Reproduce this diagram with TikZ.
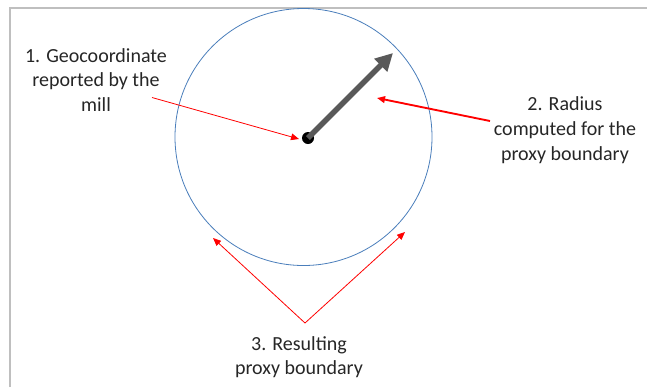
\documentclass[tikz,border=0pt]{standalone}
\usepackage{fontspec}
\setmainfont{Carlito}
\usetikzlibrary{arrows.meta}
\definecolor{framegray}{HTML}{BFBFBF}
\definecolor{circblue}{HTML}{4A7EBB}
\definecolor{arrgray}{HTML}{595959}
\tikzset{
  lbl/.style={align=center, font=\fontsize{15}{18.5}\selectfont, text=black!85, inner sep=0pt},
  redarr/.style={draw=red, line width=0.6pt, -{Triangle[length=6pt,width=5pt]}},
  redarrthick/.style={draw=red, line width=1.4pt, -{Triangle[length=6pt,width=5pt]}},
}
\begin{document}
\begin{tikzpicture}[x=0.75pt,y=-0.75pt]
\useasboundingbox (0,0) rectangle (647,387);
% frame
\draw[framegray, line width=1.5pt] (10,387) -- (10,7.5) -- (647,7.5);
% circle
\node[circle, draw=circblue, line width=0.6pt, minimum size=257*0.75pt, inner sep=0pt] (circ) at (303.5,137) {};
% center dot
\node[circle, fill=black, minimum size=12*0.75pt, inner sep=0pt] (dot) at (308,138) {};
\coordinate (rtip) at (393,53);
\draw[arrgray, line width=4pt, -{Triangle[length=13pt,width=13pt]}] (dot.center) -- (rtip);
% labels
\node[lbl] (l1) at (96,80) {1. Geocoordinate\\reported by the\\mill};
\node[lbl] (l2) at (565,130) {2. Radius\\computed for the\\proxy boundary};
\node[lbl] (l3) at (299,357) {3. Resulting\\proxy boundary};
% red arrows
\coordinate (a1s) at (152,97.5);
\coordinate (a1e) at (299,139);
\draw[redarr] (a1s) -- (a1e);
\coordinate (a2s) at (490,121);
\coordinate (a2e) at (377,98);
\draw[redarrthick] (a2s) -- (a2e);
\coordinate (apex) at (305,323);
\coordinate (a3l) at (213,238);
\coordinate (a3r) at (405,232);
\draw[redarr] (apex) -- (a3l);
\draw[redarr] (apex) -- (a3r);
\end{tikzpicture}
\end{document}
